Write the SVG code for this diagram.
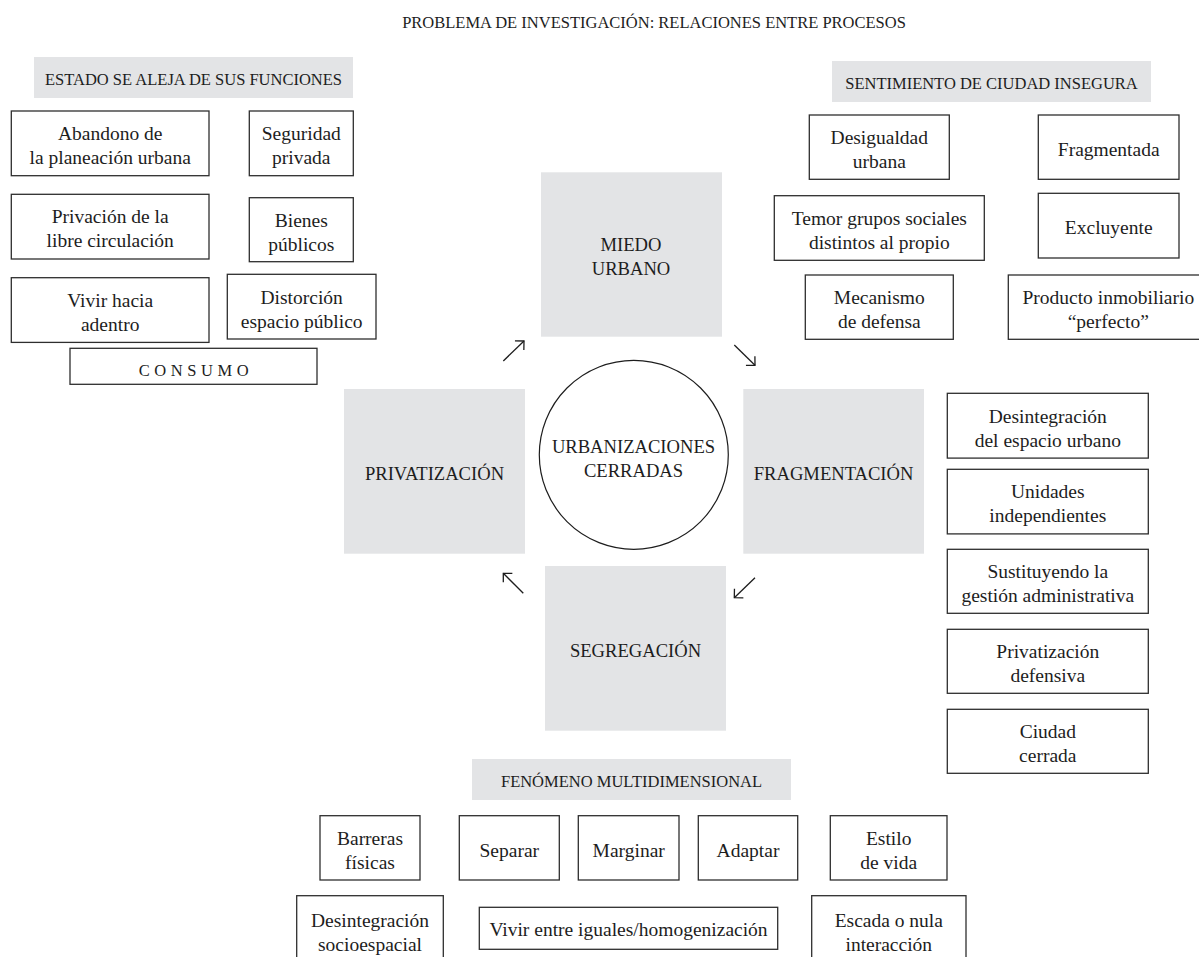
<svg xmlns="http://www.w3.org/2000/svg" width="1199" height="957" viewBox="0 0 1199 957">
<style>
text{font-family:"Liberation Serif","Times New Roman",serif;fill:#1d1d1d;text-anchor:middle}
.t{font-size:16.5px}
.b{font-size:19.5px}
.big{font-size:18.6px}
.box{fill:#fff;stroke:#2e2e2e;stroke-width:1.3}
.band{fill:#e3e4e6}
.proc{fill:#e3e4e6}
.arr{fill:none;stroke:#1d1d1d;stroke-width:1.3}
</style>
<defs>
<marker id="head" markerUnits="userSpaceOnUse" markerWidth="20" markerHeight="20" refX="10" refY="10" orient="auto" viewBox="0 0 20 20">
<path d="M3.6 3.6 L10 10 L3.6 16.4" fill="none" stroke="#1d1d1d" stroke-width="1.3"/>
</marker>
</defs>
<rect width="1199" height="957" fill="#fff"/>

<g id="title"><text class="t" x="654" y="28">PROBLEMA DE INVESTIGACIÓN: RELACIONES ENTRE PROCESOS</text></g>

<g id="estado-header"><rect class="band" x="34" y="57" width="319" height="41"/><text class="t" x="193.5" y="85">ESTADO SE ALEJA DE SUS FUNCIONES</text></g>
<g id="abandono"><rect class="box" x="11.3" y="111" width="197.7" height="64.7"/><text class="b" x="110.2" y="140">Abandono de</text><text class="b" x="110.2" y="164">la planeación urbana</text></g>
<g id="seguridad"><rect class="box" x="249.3" y="111" width="104" height="64.7"/><text class="b" x="301.3" y="140">Seguridad</text><text class="b" x="301.3" y="164">privada</text></g>
<g id="privacion"><rect class="box" x="11.3" y="194.3" width="197.7" height="64.7"/><text class="b" x="110.2" y="223.3">Privación de la</text><text class="b" x="110.2" y="247.3">libre circulación</text></g>
<g id="bienes"><rect class="box" x="249.3" y="197.7" width="104" height="64"/><text class="b" x="301.3" y="226.7">Bienes</text><text class="b" x="301.3" y="250.7">públicos</text></g>
<g id="vivir-adentro"><rect class="box" x="11.3" y="277.7" width="197.7" height="64.7"/><text class="b" x="110.2" y="306.7">Vivir hacia</text><text class="b" x="110.2" y="330.7">adentro</text></g>
<g id="distorcion"><rect class="box" x="227.3" y="274.3" width="148.7" height="64.7"/><text class="b" x="301.7" y="303.5">Distorción</text><text class="b" x="301.7" y="327.5">espacio público</text></g>
<g id="consumo"><rect class="box" x="70" y="348.3" width="247" height="36"/><text class="t" x="196" y="376" letter-spacing="4.6">CONSUMO</text></g>

<g id="sentimiento-header"><rect class="band" x="832" y="61" width="319" height="41"/><text class="t" x="991.5" y="89">SENTIMIENTO DE CIUDAD INSEGURA</text></g>
<g id="desigualdad"><rect class="box" x="809.3" y="115" width="140" height="64.3"/><text class="b" x="879.3" y="143.5">Desigualdad</text><text class="b" x="879.3" y="167.5">urbana</text></g>
<g id="fragmentada"><rect class="box" x="1038.3" y="115" width="140.7" height="64.3"/><text class="b" x="1108.7" y="155.5">Fragmentada</text></g>
<g id="temor"><rect class="box" x="774.3" y="195.7" width="210" height="64.6"/><text class="b" x="879.3" y="225">Temor grupos sociales</text><text class="b" x="879.3" y="249">distintos al propio</text></g>
<g id="excluyente"><rect class="box" x="1038.3" y="193.3" width="140.7" height="64.7"/><text class="b" x="1108.7" y="234">Excluyente</text></g>
<g id="mecanismo"><rect class="box" x="805.3" y="275" width="148" height="64.3"/><text class="b" x="879.3" y="304">Mecanismo</text><text class="b" x="879.3" y="328">de defensa</text></g>
<g id="producto"><rect class="box" x="1008.3" y="275" width="200" height="64.3"/><text class="b" x="1108.3" y="304">Producto inmobiliario</text><text class="b" x="1108.3" y="328">“perfecto”</text></g>

<g id="miedo"><rect class="proc" x="541" y="172.3" width="181" height="164.4"/><text class="big" x="631" y="251">MIEDO</text><text class="big" x="631" y="275">URBANO</text></g>
<g id="privatizacion"><rect class="proc" x="344" y="389" width="181" height="164.7"/><text class="big" x="434.5" y="480">PRIVATIZACIÓN</text></g>
<g id="fragmentacion"><rect class="proc" x="743.3" y="389" width="180.7" height="164.7"/><text class="big" x="833.6" y="480">FRAGMENTACIÓN</text></g>
<g id="segregacion"><rect class="proc" x="545" y="566" width="181" height="164.7"/><text class="big" x="635.5" y="656.7">SEGREGACIÓN</text></g>
<g id="urbanizaciones"><circle cx="633.8" cy="454.8" r="94.5" fill="#fff" stroke="#1d1d1d" stroke-width="1.2"/><text class="big" x="633.5" y="452.7">URBANIZACIONES</text><text class="big" x="633.5" y="476.7">CERRADAS</text></g>

<g id="connectors">
<line class="arr" x1="503.3" y1="361" x2="524" y2="341" marker-end="url(#head)"/>
<line class="arr" x1="734.3" y1="345" x2="755" y2="365.3" marker-end="url(#head)"/>
<line class="arr" x1="755" y1="577.7" x2="734.3" y2="597.7" marker-end="url(#head)"/>
<line class="arr" x1="523.3" y1="593.3" x2="503.3" y2="573.3" marker-end="url(#head)"/>
</g>

<g id="desintegracion-urbano"><rect class="box" x="947.3" y="393.3" width="201" height="64.8"/><text class="b" x="1047.8" y="423.3">Desintegración</text><text class="b" x="1047.8" y="447.3">del espacio urbano</text></g>
<g id="unidades"><rect class="box" x="947.3" y="469.3" width="201" height="64.6"/><text class="b" x="1047.8" y="498.3">Unidades</text><text class="b" x="1047.8" y="522.3">independientes</text></g>
<g id="sustituyendo"><rect class="box" x="947.3" y="549.3" width="201" height="64"/><text class="b" x="1047.8" y="578.3">Sustituyendo la</text><text class="b" x="1047.8" y="602.3">gestión administrativa</text></g>
<g id="privatizacion-defensiva"><rect class="box" x="947.3" y="629.3" width="201" height="64"/><text class="b" x="1047.8" y="658.3">Privatización</text><text class="b" x="1047.8" y="682.3">defensiva</text></g>
<g id="ciudad-cerrada"><rect class="box" x="947.3" y="709.3" width="201" height="64"/><text class="b" x="1047.8" y="738.3">Ciudad</text><text class="b" x="1047.8" y="762.3">cerrada</text></g>

<g id="fenomeno-header"><rect class="band" x="472" y="759" width="319" height="41"/><text class="t" x="631.5" y="787.3">FENÓMENO MULTIDIMENSIONAL</text></g>
<g id="barreras"><rect class="box" x="320" y="815.7" width="100" height="64.3"/><text class="b" x="370" y="845">Barreras</text><text class="b" x="370" y="869">físicas</text></g>
<g id="separar"><rect class="box" x="459.3" y="815.7" width="100" height="64.3"/><text class="b" x="509.3" y="856.5">Separar</text></g>
<g id="marginar"><rect class="box" x="578.3" y="815.7" width="100.7" height="64.3"/><text class="b" x="628.7" y="856.5">Marginar</text></g>
<g id="adaptar"><rect class="box" x="698.3" y="815.7" width="99.4" height="64.3"/><text class="b" x="748" y="856.5">Adaptar</text></g>
<g id="estilo"><rect class="box" x="830.3" y="815.7" width="116.7" height="64.3"/><text class="b" x="888.7" y="845">Estilo</text><text class="b" x="888.7" y="869">de vida</text></g>
<g id="desintegracion-socio"><rect class="box" x="296.7" y="895.7" width="146.6" height="66"/><text class="b" x="370" y="926.7">Desintegración</text><text class="b" x="370" y="950.7">socioespacial</text></g>
<g id="vivir-iguales"><rect class="box" x="479.3" y="907.3" width="298.4" height="42"/><text class="b" x="628.5" y="936">Vivir entre iguales/homogenización</text></g>
<g id="escada"><rect class="box" x="811.7" y="895.7" width="154.3" height="66"/><text class="b" x="888.8" y="926.7">Escada o nula</text><text class="b" x="888.8" y="950.7">interacción</text></g>
</svg>
